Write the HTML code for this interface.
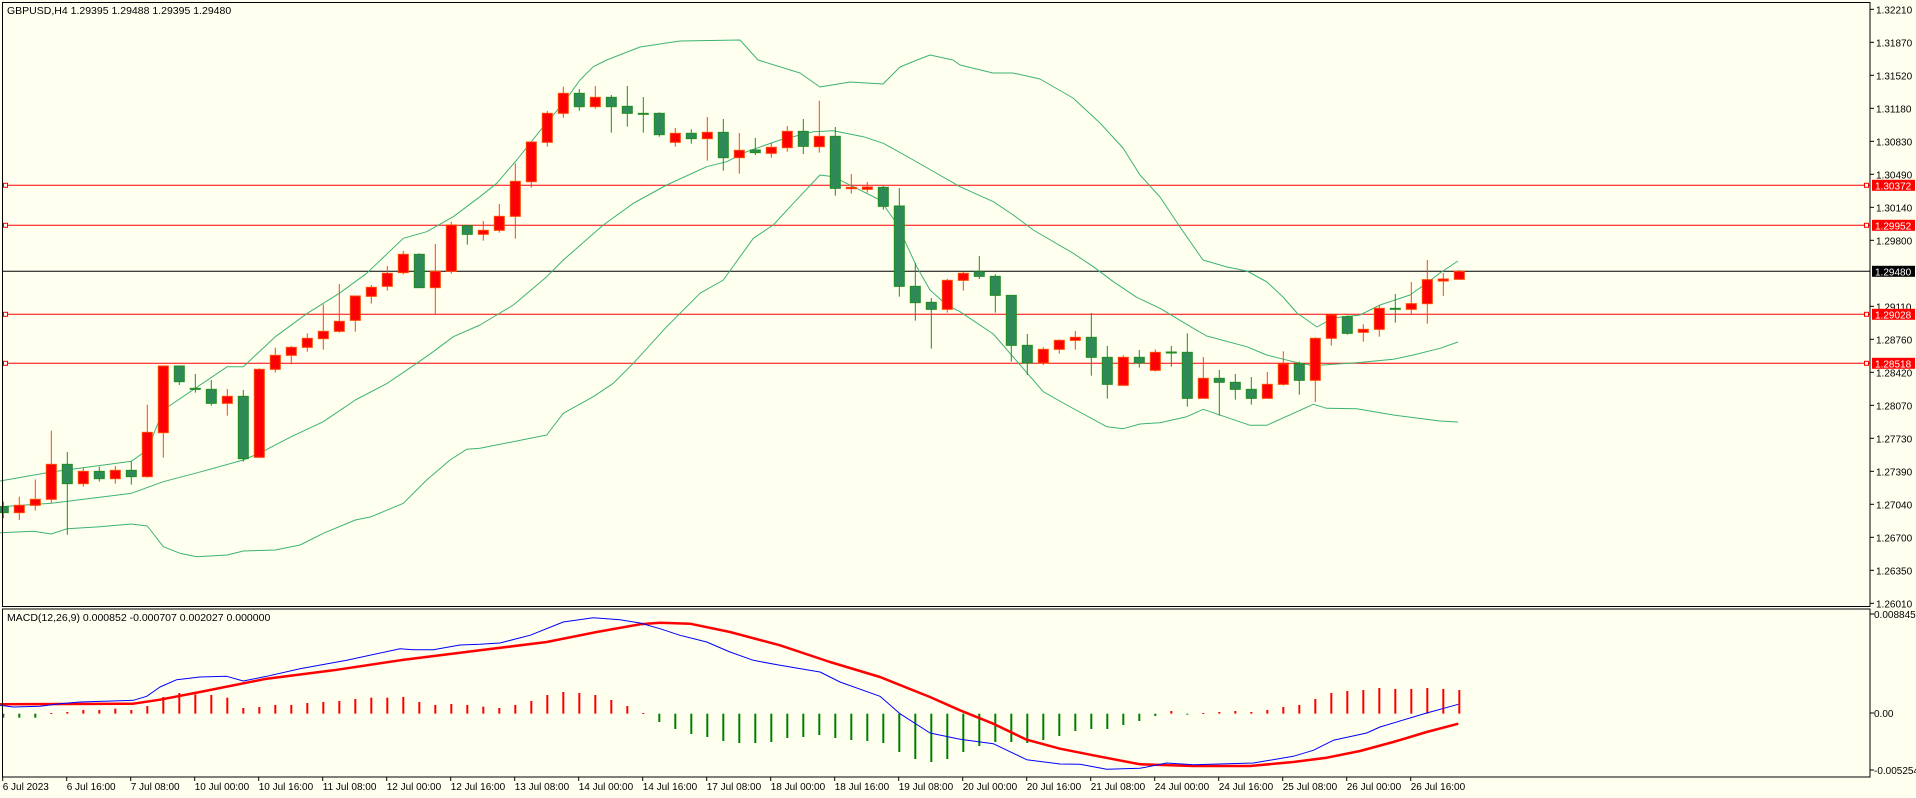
<!DOCTYPE html>
<html><head><meta charset="utf-8">
<style>
html,body{margin:0;padding:0;background:#fffff0;}
svg{display:block;}
text{font-family:"Liberation Sans",Arial,sans-serif;font-size:10.5px;fill:#000;}
#axis text{font-size:10px;}
</style></head>
<body>
<svg id="c" width="1916" height="798" viewBox="0 0 1916 798" xmlns="http://www.w3.org/2000/svg">
<rect x="0" y="0" width="1916" height="798" fill="#fffff0"/>
<g id="plot"></g>
<rect x="2.5" y="2.5" width="1867.5" height="604" fill="none" stroke="#000" stroke-width="1"/>
<rect x="2.5" y="609" width="1867.5" height="168" fill="none" stroke="#000" stroke-width="1"/>
<text x="7" y="14">GBPUSD,H4  1.29395 1.29488 1.29395 1.29480</text>
<text x="7" y="621">MACD(12,26,9) 0.000852 -0.000707 0.002027 0.000000</text>
<g id="axis"></g>
</svg>
<script>
var NS="http://www.w3.org/2000/svg";
var plot=document.getElementById('plot'),axis=document.getElementById('axis');
function el(p,n,a,t){var e=document.createElementNS(NS,n);for(var k in a)e.setAttribute(k,a[k]);if(t!==undefined)e.textContent=t;p.appendChild(e);return e;}
function Z(x0,y0,a){var r=[];for(var i=0;i<a.length;i+=2)r.push([x0+a[i]/3,y0+a[i+1]/3]);return r;}
function poly(pts,col,w){el(plot,'polyline',{points:pts.map(function(p){return p[0].toFixed(1)+','+p[1].toFixed(1)}).join(' '),fill:'none',stroke:col,'stroke-width':w,'stroke-linejoin':'round'});}

var hl=[[185.3,'#ff0000'],[225.3,'#ff0000'],[314.3,'#ff0000'],[363.3,'#ff0000']];
hl.forEach(function(h){el(plot,'line',{x1:3,x2:1870,y1:h[0],y2:h[0],stroke:h[1],'stroke-width':1});
 el(plot,'rect',{x:3.5,y:h[0]-2,width:4,height:4,fill:'#fffff0',stroke:'#ff0000','stroke-width':1});
 el(plot,'rect',{x:1864.5,y:h[0]-2,width:4,height:4,fill:'#fffff0',stroke:'#ff0000','stroke-width':1});});
el(plot,'line',{x1:3,x2:1870,y1:271.3,y2:271.3,stroke:'#000','stroke-width':1});

var BC='#3cb371';
var up=[].concat(Z(0,60,[0,1263,154,1236,394,1204,442,1170,490,1050,586,985,682,920,730,920,826,830,922,760,1018,700,1100,640,1210,535,1280,515,1360,470,1440,410]),
 Z(480,60,[50,370,110,300,190,200,250,130,300,60,340,20,380,0]),
 [[640,47],[680,41],[740,40],[758,60],[800,73],[820,87],[850,82],[883,84],[900,67],[917,60],[930,55],[953,60]],
 [[960,65],[993,73],[1013,73],[1040,79],[1073,98],[1100,123],[1123,148],[1140,175],[1160,197],[1180,227],[1203,260],[1227,267],[1247,271],[1267,282],[1283,297],[1297,313],[1317,327],[1333,318],[1360,315],[1380,305],[1410,295],[1427,283],[1440,273],[1458,261]]);
var mid=[].concat(Z(0,60,[0,1340,154,1330,394,1300,490,1265,586,1240,730,1200,778,1180,874,1130,970,1085,1066,1020,1162,970,1250,910,1300,875,1360,830,1440,795]),
 Z(480,60,[100,735,200,650,250,600,370,495,460,430,560,375,680,320,740,305,800,275,900,240,1000,215,1060,212,1150,230,1210,250,1300,300,1440,380]),
 Z(960,60,[100,425,160,465,220,510,340,580,400,620,460,665,530,712,600,745,700,805,740,828,860,860,920,885,1000,905,1060,917,1130,912,1190,908,1300,898,1360,885,1440,865]),[[1458,342]]);
var lo=[].concat(Z(0,60,[0,1418,100,1414,154,1422,202,1406,300,1400,394,1392,442,1398,490,1460,540,1480,590,1490,682,1485,730,1473,826,1470,900,1455,970,1420,1066,1380,1114,1370,1210,1330,1280,1260,1350,1200,1400,1168,1440,1165]),
 Z(480,60,[200,1125,250,1060,340,1010,400,970,460,910,560,800,660,700,730,660,820,535,880,495,940,430,1020,345,1060,350,1120,380,1200,420,1250,490,1310,620,1350,690,1400,735,1440,755]),
 Z(960,60,[100,822,150,880,250,995,320,1035,440,1100,490,1106,540,1092,600,1088,680,1070,730,1048,870,1096,920,1096,1060,1033,1100,1045,1190,1046,1300,1065,1440,1083]),[[1458,422]]);
poly(up,BC,1);poly(mid,BC,1);poly(lo,BC,1);

var C="G1325,1340,1358,1375;R1310,1336,1358,1380;R1258,1318,1336,1352;R1112,1213,1318,1330;G1176,1213,1271,1424;R1222,1234,1271,1280;G1220,1234,1256,1265;R1218,1231,1256,1271;G1204,1231,1250,1274;R1034,1117,1250,1253;"+
"R918,918,1118,1193;G918,918,965,975;G942,985,988,998;G960,988,1030,1037;R987,1009,1030,1067;G990,1009,1196,1205;R925,928,1192,1192;R863,886,928,938;R858,862,886,913;R820,835,862,875;"+
"R733,814,836,869;R672,784,814,818;R708,708,781,815;R675,682,709,731;R618,640,679,692;R573,583,638,643;G580,583,683,683;R552,634,683,762;R485,495,634,641;G495,497,523,554;"+
"R483,511,523,542;R432,469,511,518;R310,364,469,536;R246,246,365,383;R153,160,247,260;R80,100,160,173;G87,100,140,152;R78,112,140,146;G105,112,140,218;G78,139,160,200;"+
"G111,160,163,218;G157,160,224,230;R204,220,247,260;G208,220,236,251;R171,217,236,302;G177,217,293,332;R219,271,293,341;G234,270,278,285;R250,262,280,293;R198,214,263,275;"+
"G177,214,259,282;R122,229,260,278;G201,229,385,407;R342,382,386,401;R366,381,388,398;G378,382,439,449;G384,438,679,710;G609,679,728,782;G714,727,748,866;R657,661,748,758;"+
"R635,640,661,692;G588,635,649,657;G643,649,706,758;G706,706,856,905;G822,856,909,945;R862,868,909,915;R838,841,868,881;R813,832,841,869;G759,832,892,947;G858,892,973,1016;"+
"R886,892,976,976;G870,892,909,923;R868,877,931,935;G858,876,879,920;G820,877,1015,1040;R891,955,1015,1015;G930,955,967,1067;G942,967,988,1019;G951,988,1015,1034;R936,973,1015,1015;"+
"R874,912,973,977;G905,912,961,1004;R832,835,961,1026;R760,765,835,857;G766,770,820,824;R793,808,817,845;R736,745,808,830;G702,745,748,788;R666,731,748,762;R600,659,731,791;"+
"R639,657,663,708;R630,634,658,658";
C.split(';').forEach(function(s,i){
 var t=s[0],v=s.slice(1).split(',').map(Number).map(function(z){return 60+z/3;});
 var x=3.3+16*i, wc=t=='R'?'#ff4500':'#228b22', fc=t=='R'?'#ff0000':'#2e8b57';
 el(plot,'line',{x1:x,x2:x,y1:v[0],y2:v[3],stroke:wc,'stroke-width':1});
 var h=Math.max(v[2]-v[1],1);
 el(plot,'rect',{x:x-5,y:v[1],width:10,height:h,fill:fc,stroke:wc,'stroke-width':1});
});

var H=[332,332,332,318,315,309,309,305,309,297,270,258,262,264,272,303,300,294,294,288,285,282,276,272,272,270,285,294,291,294,
299,303,294,282,264,255,258,264,279,297,318,345,366,381,390,402,408,408,405,393,390,384,393,399,402,408,435,456,465,456,
435,417,405,405,408,399,387,372,366,366,354,342,327,312,320,318,315,312,315,309,300,294,276,258,252,249,243,246,246,243,246,249];
H.forEach(function(z,i){var x=3.3+16*i,y0=607+320/3,y=607+z/3;
 el(plot,'rect',{x:x-1,y:Math.min(y,y0),width:2,height:Math.max(Math.abs(y-y0),1),fill:z<320?'#ff0000':'#008000'});});
var blue=[].concat(Z(0,607,[0,295,40,300,120,298,180,290,240,285,400,280,440,268,480,240,530,218,600,210,680,208,730,222,800,208,900,185,1040,160,1200,125,1240,128,1300,128,1380,114,1440,112]),
 Z(480,607,[60,108,150,85,250,45,340,32,420,38,480,48,540,65,600,85,680,105,750,135,820,160,900,175,1020,195,1080,225,1200,268,1260,320,1350,378,1440,397]),
 Z(960,607,[100,410,200,458,300,471,360,472,440,487,540,484,620,468,700,473,880,468,1000,448,1060,430,1120,400,1220,378,1260,360,1400,318,1495,292]));
var red=[].concat(Z(0,607,[0,292,400,290,480,278,600,255,800,215,1000,190,1200,160,1440,130]),
 Z(480,607,[200,105,350,75,480,52,540,47,630,50,750,75,900,115,1050,165,1200,210,1350,270,1440,310]),
 Z(960,607,[100,350,200,398,300,425,400,445,540,472,700,477,870,477,1000,465,1100,452,1200,432,1300,405,1400,375,1495,350]));
poly(red,'#ff0000',2.5);poly(blue,'#0000ff',1);

var T=[["1.32210",9.3],["1.31870",42.3],["1.31520",75.3],["1.31180",108.3],["1.30830",141.3],["1.30490",174.3],["1.30140",207.3],["1.29800",240.3],["1.29110",306.3],["1.28760",339.3],["1.28420",372.3],["1.28070",405.3],["1.27730",438.3],["1.27390",471.3],["1.27040",504.3],["1.26700",537.3],["1.26350",570.3],["1.26010",603.3]];
T.forEach(function(t){el(axis,'line',{x1:1870,x2:1874,y1:t[1],y2:t[1],stroke:'#000'});el(axis,'text',{x:1876,y:t[1]+4},t[0]);});
[["1.30372",185.3,'#ff0000'],["1.29952",225.3,'#ff0000'],["1.29480",271.3,'#000'],["1.29028",314.3,'#ff0000'],["1.28518",363.3,'#ff0000']].forEach(function(t){
 el(axis,'rect',{x:1872,y:t[1]-5.5,width:43,height:11,fill:t[2]});
 el(axis,'text',{x:1875,y:t[1]+4,style:'fill:#fff'},t[0]);});
[["0.008845",615],["0.00",714],["-0.005254",771]].forEach(function(t){el(axis,'line',{x1:1870,x2:1874,y1:t[1]-1,y2:t[1]-1,stroke:'#000'});el(axis,'text',{x:1874,y:t[1]+3},t[0]);});
var L=["6 Jul 2023","6 Jul 16:00","7 Jul 08:00","10 Jul 00:00","10 Jul 16:00","11 Jul 08:00","12 Jul 00:00","12 Jul 16:00","13 Jul 08:00","14 Jul 00:00","14 Jul 16:00","17 Jul 08:00","18 Jul 00:00","18 Jul 16:00","19 Jul 08:00","20 Jul 00:00","20 Jul 16:00","21 Jul 08:00","24 Jul 00:00","24 Jul 16:00","25 Jul 08:00","26 Jul 00:00","26 Jul 16:00"];
L.forEach(function(l,i){var x=2.7+64*i;el(axis,'line',{x1:x,x2:x,y1:777,y2:781,stroke:'#000'});el(axis,'text',{x:x,y:790},l);});
</script>
</body></html>
